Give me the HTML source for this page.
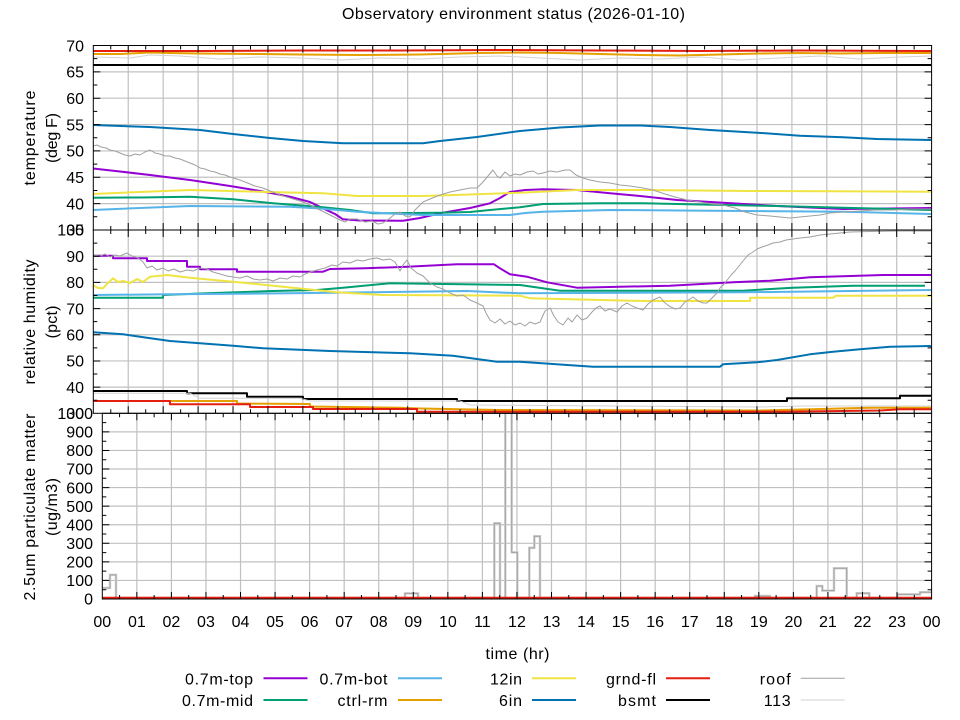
<!DOCTYPE html>
<html><head><meta charset="utf-8"><style>
html,body{margin:0;padding:0;background:#fff;}
svg{display:block;}
text{font-family:"Liberation Sans","DejaVu Sans",sans-serif;font-size:16px;fill:#000;}
</style></head><body>
<svg width="960" height="720" viewBox="0 0 960 720" xmlns="http://www.w3.org/2000/svg">
<defs>
<clipPath id="c1"><rect x="93.3" y="45.5" width="838.3" height="184.5"/></clipPath>
<clipPath id="c2"><rect x="93.3" y="230" width="838.3" height="183.3"/></clipPath>
<clipPath id="c3"><rect x="102.3" y="413.3" width="829.3" height="185.7"/></clipPath>
</defs>
<rect width="960" height="720" fill="#fff"/>

<!-- grid panels 1 & 2 -->
<g stroke="#c0c0c0" stroke-width="1.2" fill="none">
<path d="M128.23 45.5V413.3M163.16 45.5V413.3M198.09 45.5V413.3M233.02 45.5V413.3M267.95 45.5V413.3M302.88 45.5V413.3M337.81 45.5V413.3M372.74 45.5V413.3M407.67 45.5V413.3M442.6 45.5V413.3M477.53 45.5V413.3M512.46 45.5V413.3M547.39 45.5V413.3M582.32 45.5V413.3M617.25 45.5V413.3M652.18 45.5V413.3M687.11 45.5V413.3M722.04 45.5V413.3M756.97 45.5V413.3M791.9 45.5V413.3M826.83 45.5V413.3M861.76 45.5V413.3M896.69 45.5V413.3"/>
<path d="M93.3 71.86H931.6M93.3 98.21H931.6M93.3 124.57H931.6M93.3 150.92H931.6M93.3 177.28H931.6M93.3 203.63H931.6"/>
<path d="M93.3 256.19H931.6M93.3 282.38H931.6M93.3 308.57H931.6M93.3 334.76H931.6M93.3 360.95H931.6M93.3 387.14H931.6"/>
<!-- panel 3 grid -->
<path d="M136.85 413.3V599M171.41 413.3V599M205.96 413.3V599M240.52 413.3V599M275.07 413.3V599M309.62 413.3V599M344.18 413.3V599M378.73 413.3V599M413.29 413.3V599M447.84 413.3V599M482.39 413.3V599M516.95 413.3V599M551.5 413.3V599M586.06 413.3V599M620.61 413.3V599M655.16 413.3V599M689.72 413.3V599M724.27 413.3V599M758.83 413.3V599M793.38 413.3V599M827.93 413.3V599M862.49 413.3V599M897.04 413.3V599"/>
<path d="M102.3 580.43H931.6M102.3 561.86H931.6M102.3 543.29H931.6M102.3 524.72H931.6M102.3 506.15H931.6M102.3 487.58H931.6M102.3 469.01H931.6M102.3 450.44H931.6M102.3 431.87H931.6"/>
</g>

<!-- PANEL 1 series -->
<g clip-path="url(#c1)" fill="none" stroke-linejoin="round">
<polyline stroke="#9400d3" stroke-width="2" points="93,168.5 120,171.5 150,175 190,180 230,186 260,191 290,196.7 310,202 323,208.3 335,214 343,219.3 360,220.5 403,220.7 420,218 443,212.7 470,208 490,203.3 500,198 510,192 525,190 543,189.3 577,190 610,193.3 640,196 677,200 723,202.7 777,206 843,209 931,208"/>
<polyline stroke="#009e73" stroke-width="2" points="93,197.7 140,197.5 190,196.7 233,199.3 273,203.3 323,207.3 350,210 373,213.3 440,212.7 470,212 490,210 520,207.3 543,204 600,203.3 643,203.3 700,204.5 777,206 843,207.7 931,210"/>
<polyline stroke="#56b4e9" stroke-width="2" points="93,210 140,208 190,206 290,206.7 320,208.5 357,211.7 390,213.5 423,215 510,215 525,213 543,211.7 610,210 680,210.5 743,211 843,211.7 931,214"/>
<polyline stroke="#e69f00" stroke-width="2" points="93,54 120,54 130,53.5 150,52.5 170,53 200,53.5 260,54 300,54.5 360,55 420,54.5 480,53 520,52.5 560,53 600,54 640,55 680,55.5 720,54.5 760,53.5 800,53 840,53.5 880,53 931,53"/>
<polyline stroke="#f0e442" stroke-width="2" points="93,194 140,192 190,190 257,191.7 323,193.3 357,196 423,196 470,194.5 520,192.7 577,190 643,190 750,191 931,191.7"/>
<polyline stroke="#0072b2" stroke-width="2" points="93,125 150,127 200,130 233,134 270,138 303,141 343,143.3 423,143.3 440,141 477,137 520,131 560,127.5 600,125.5 640,125.5 670,127 710,130 757,132.7 800,135.7 843,137.3 877,139 931,140"/>
<polyline stroke="#e51e10" stroke-width="2" points="93,51 200,51 300,50.5 400,50.5 500,50 600,50.5 700,51 800,50.5 931,51"/>
<polyline stroke="#000" stroke-width="2" points="93,65 931,65"/>
<polyline stroke="#a0a0a0" stroke-width="1" points="93,146 97,145 101,147 106,148 110,150 115,151 120,153 125,155 130,156 135,154 140,155 145,152 150,150 155,153 160,154 165,156 170,156 175,158 180,159 185,161 190,163 195,165 200,168 205,169 210,171 215,172 220,174 225,175 230,177 240,180 250,184 255,186 263,188 270,191 280,195 290,198 303,202 310,205 320,210 330,215 340,220 345,222 350,219 357,219 365,222 372,221 378,224 383,223 390,218 395,214 400,212 405,216 410,217 415,210 423,202 430,199 440,195 450,192 460,190 470,188 477,188 483,182 488,176 493,170 497,176 500,178 505,172 510,176 515,174 520,175 527,172 533,171 538,174 543,173 550,171 557,172 565,170 570,170 576,175 583,178 590,180 600,182 610,183 620,185 630,186 643,188 653,190 665,194 675,197 687,200 700,202 712,204 723,205 735,208 745,212 757,215 770,216 780,217 790,218 800,217 810,216 820,215 830,213 843,212 860,211 875,210 893,210 910,209 931,209"/>
<polyline stroke="#d3d3d3" stroke-width="1" points="93,57 130,58 150,55 180,56 220,59 260,57 300,58 340,60 380,58 420,59 460,57 500,56 540,58 580,60 620,58 660,59 700,57 740,60 780,58 820,56 860,59 900,57 931,56"/>
</g>

<!-- PANEL 2 series -->
<g clip-path="url(#c2)" fill="none" stroke-linejoin="round">
<polyline stroke="#9400d3" stroke-width="2" points="93,255.7 113,255.7 113,258.3 147,258.3 147,261 187,261 187,266.7 200,266.7 200,269.3 237,269.3 237,271.7 323,271.7 330,269 365,268.3 407,266.7 457,264.3 494,264.3 500,268.3 510,274.3 527,276.7 547,282.3 577,287.7 670,285.7 733,282.3 770,280.7 810,277.3 883,275 931,275"/>
<polyline stroke="#009e73" stroke-width="2" points="93,297.7 163,297.7 163,295 207,293.3 273,291 317,290 343,287.7 390,283.3 520,285 560,290.7 743,290.7 793,287.7 853,285.7 925,285.7"/>
<polyline stroke="#56b4e9" stroke-width="2" points="93,295 170,294.3 290,293.3 467,291 520,293.3 743,292.3 931,290"/>
<polyline stroke="#e69f00" stroke-width="2" points="93,401 170,401 237,401 237,403.5 310,404 310,406.5 400,407.7 420,408.5 500,410 760,410.5 870,407.7 931,407.7"/>
<polyline stroke="#f0e442" stroke-width="2" points="93,285 98,288 103,288.3 108,283 113,278.3 118,282 123,281 130,283 137,279 143,282 150,276.7 167,275 190,277.7 233,281.7 283,286.7 337,292.3 383,295 520,295.7 530,298.3 643,301 750,301 750,297.7 833,297.7 836,295.7 931,295.7"/>
<polyline stroke="#0072b2" stroke-width="2" points="93,332.3 123,334.3 147,337.7 170,341 200,343.3 233,345.7 263,348.3 330,351 410,353.3 453,355.7 497,361.7 520,361.7 593,366.7 720,366.7 723,364.3 757,362.3 777,360 810,354.3 833,351.7 860,349.3 890,346.7 931,346"/>
<polyline stroke="#e51e10" stroke-width="2" points="93,401 170,401 170,404.3 250,404.3 250,407 313,407 313,409 417,409 417,411.7 783,411.7 880,410.5 900,409.3 931,409.3"/>
<polyline stroke="#000" stroke-width="2" points="93,391 187,391 187,393.3 247,393.3 247,396.7 303,396.7 303,399 457,399 457,401 787,401 787,398.3 900,398.3 900,395.7 931,395.7"/>
<polyline stroke="#a0a0a0" stroke-width="1" points="93,255 100,256 105,254 110,257 115,255 120,256 127,253 132,256 138,258 143,262 147,268 152,266 157,270 163,268 168,271 174,269 180,272 187,270 193,271 200,268 207,269 213,272 220,274 227,276 233,277 240,278 247,276 253,279 260,280 267,279 273,281 280,278 287,279 293,276 300,277 305,274 310,272 317,270 325,268 332,265 337,266 343,262 350,263 357,260 363,261 370,259 377,258 383,260 390,259 395,262 400,271 403,265 407,260 411,268 417,273 423,276 430,283 437,287 443,289 450,293 457,296 463,295 470,300 477,303 483,306 486,313 490,320 495,323 500,319 505,324 510,321 515,325 520,323 525,326 530,322 535,324 540,322 545,311 550,308 554,316 558,322 563,325 568,318 572,322 577,315 582,320 587,318 592,312 596,308 600,306 605,311 610,309 617,312 622,306 627,303 632,306 637,308 643,310 648,304 653,300 660,297 664,302 669,306 675,309 680,308 685,302 690,299 693,297 698,301 703,303 707,303 712,298 717,293 720,288 724,284 728,279 731,275 735,271 739,266 743,261 748,255 753,252 757,249 762,247 768,245 773,243 780,242 786,240 793,239 800,238 810,237 820,235 830,234 840,233 850,232 870,231.5 900,231 931,231"/>
<polyline stroke="#d3d3d3" stroke-width="1" points="93,393.3 190,393.3 200,398.3 300,398.3 310,401 460,401 470,405 760,407 800,406 931,406"/>
</g>

<!-- PANEL 3 series -->
<g clip-path="url(#c3)" fill="none">
<polyline stroke="#d3d3d3" stroke-width="2.5" points="102.3,588 110,588 110,574.9 116,574.9 116,598 405,598 405,593.4 418,593.4 418,598 494.3,598 494.3,523.2 500,523.2 500,598 505.3,598 505.3,405 511.7,405 511.7,552.4 517.3,552.4 517.3,598 529.3,598 529.3,547.9 534.3,547.9 534.3,536.2 540,536.2 540,598 755,598 755,596 770,596 770,598 816.7,598 816.7,586 822.3,586 822.3,590.6 834,590.6 834,568.2 846.7,568.2 846.7,598 856.7,598 856.7,593.2 869.3,593.2 869.3,598 897.3,598 897.3,594.4 920,594.4 920,592.3 931.7,592.3"/>
<polyline stroke="#a0a0a0" stroke-width="1" points="102.3,588 110,588 110,574.9 116,574.9 116,598 405,598 405,593.4 418,593.4 418,598 494.3,598 494.3,523.2 500,523.2 500,598 505.3,598 505.3,405 511.7,405 511.7,552.4 517.3,552.4 517.3,598 529.3,598 529.3,547.9 534.3,547.9 534.3,536.2 540,536.2 540,598 755,598 755,596 770,596 770,598 816.7,598 816.7,586 822.3,586 822.3,590.6 834,590.6 834,568.2 846.7,568.2 846.7,598 856.7,598 856.7,593.2 869.3,593.2 869.3,598 897.3,598 897.3,594.4 920,594.4 920,592.3 931.7,592.3"/>
<polyline stroke="#e51e10" stroke-width="2" points="102.3,597.8 931.6,597.8"/>
</g>

<!-- frames & ticks -->
<g stroke="#000" stroke-width="1" fill="none">
<rect x="93.3" y="45.5" width="838.3" height="184.5"/>
<rect x="93.3" y="230" width="838.3" height="183.3"/>
<rect x="102.3" y="413.3" width="829.3" height="185.7"/>
<!-- x major ticks panels 1-2 -->
<path d="M128.23 45.5v7M128.23 223v14M128.23 406.3v7M163.16 45.5v7M163.16 223v14M163.16 406.3v7M198.09 45.5v7M198.09 223v14M198.09 406.3v7M233.02 45.5v7M233.02 223v14M233.02 406.3v7M267.95 45.5v7M267.95 223v14M267.95 406.3v7M302.88 45.5v7M302.88 223v14M302.88 406.3v7M337.81 45.5v7M337.81 223v14M337.81 406.3v7M372.74 45.5v7M372.74 223v14M372.74 406.3v7M407.67 45.5v7M407.67 223v14M407.67 406.3v7M442.6 45.5v7M442.6 223v14M442.6 406.3v7M477.53 45.5v7M477.53 223v14M477.53 406.3v7M512.46 45.5v7M512.46 223v14M512.46 406.3v7M547.39 45.5v7M547.39 223v14M547.39 406.3v7M582.32 45.5v7M582.32 223v14M582.32 406.3v7M617.25 45.5v7M617.25 223v14M617.25 406.3v7M652.18 45.5v7M652.18 223v14M652.18 406.3v7M687.11 45.5v7M687.11 223v14M687.11 406.3v7M722.04 45.5v7M722.04 223v14M722.04 406.3v7M756.97 45.5v7M756.97 223v14M756.97 406.3v7M791.9 45.5v7M791.9 223v14M791.9 406.3v7M826.83 45.5v7M826.83 223v14M826.83 406.3v7M861.76 45.5v7M861.76 223v14M861.76 406.3v7M896.69 45.5v7M896.69 223v14M896.69 406.3v7"/>
<!-- x minor ticks panels 1-2 -->
<path d="M110.77 45.5v4M110.77 226v8M110.77 409.3v4M145.7 45.5v4M145.7 226v8M145.7 409.3v4M180.63 45.5v4M180.63 226v8M180.63 409.3v4M215.56 45.5v4M215.56 226v8M215.56 409.3v4M250.49 45.5v4M250.49 226v8M250.49 409.3v4M285.42 45.5v4M285.42 226v8M285.42 409.3v4M320.35 45.5v4M320.35 226v8M320.35 409.3v4M355.28 45.5v4M355.28 226v8M355.28 409.3v4M390.21 45.5v4M390.21 226v8M390.21 409.3v4M425.14 45.5v4M425.14 226v8M425.14 409.3v4M460.07 45.5v4M460.07 226v8M460.07 409.3v4M495 45.5v4M495 226v8M495 409.3v4M529.93 45.5v4M529.93 226v8M529.93 409.3v4M564.86 45.5v4M564.86 226v8M564.86 409.3v4M599.79 45.5v4M599.79 226v8M599.79 409.3v4M634.72 45.5v4M634.72 226v8M634.72 409.3v4M669.65 45.5v4M669.65 226v8M669.65 409.3v4M704.58 45.5v4M704.58 226v8M704.58 409.3v4M739.51 45.5v4M739.51 226v8M739.51 409.3v4M774.44 45.5v4M774.44 226v8M774.44 409.3v4M809.37 45.5v4M809.37 226v8M809.37 409.3v4M844.3 45.5v4M844.3 226v8M844.3 409.3v4M879.23 45.5v4M879.23 226v8M879.23 409.3v4M914.16 45.5v4M914.16 226v8M914.16 409.3v4"/>
<!-- x ticks panel 3 -->
<path d="M136.85 413.3v7M136.85 599v-7M171.41 413.3v7M171.41 599v-7M205.96 413.3v7M205.96 599v-7M240.52 413.3v7M240.52 599v-7M275.07 413.3v7M275.07 599v-7M309.62 413.3v7M309.62 599v-7M344.18 413.3v7M344.18 599v-7M378.73 413.3v7M378.73 599v-7M413.29 413.3v7M413.29 599v-7M447.84 413.3v7M447.84 599v-7M482.39 413.3v7M482.39 599v-7M516.95 413.3v7M516.95 599v-7M551.5 413.3v7M551.5 599v-7M586.06 413.3v7M586.06 599v-7M620.61 413.3v7M620.61 599v-7M655.16 413.3v7M655.16 599v-7M689.72 413.3v7M689.72 599v-7M724.27 413.3v7M724.27 599v-7M758.83 413.3v7M758.83 599v-7M793.38 413.3v7M793.38 599v-7M827.93 413.3v7M827.93 599v-7M862.49 413.3v7M862.49 599v-7M897.04 413.3v7M897.04 599v-7"/>
<path d="M119.58 413.3v4M119.58 599v-4M154.13 413.3v4M154.13 599v-4M188.69 413.3v4M188.69 599v-4M223.24 413.3v4M223.24 599v-4M257.8 413.3v4M257.8 599v-4M292.35 413.3v4M292.35 599v-4M326.9 413.3v4M326.9 599v-4M361.46 413.3v4M361.46 599v-4M396.01 413.3v4M396.01 599v-4M430.57 413.3v4M430.57 599v-4M465.12 413.3v4M465.12 599v-4M499.67 413.3v4M499.67 599v-4M534.23 413.3v4M534.23 599v-4M568.78 413.3v4M568.78 599v-4M603.34 413.3v4M603.34 599v-4M637.89 413.3v4M637.89 599v-4M672.44 413.3v4M672.44 599v-4M707 413.3v4M707 599v-4M741.55 413.3v4M741.55 599v-4M776.11 413.3v4M776.11 599v-4M810.66 413.3v4M810.66 599v-4M845.21 413.3v4M845.21 599v-4M879.77 413.3v4M879.77 599v-4M914.32 413.3v4M914.32 599v-4"/>
<!-- y ticks panel 1 -->
<path d="M93.3 71.86h7M931.6 71.86h-7M93.3 98.21h7M931.6 98.21h-7M93.3 124.57h7M931.6 124.57h-7M93.3 150.92h7M931.6 150.92h-7M93.3 177.28h7M931.6 177.28h-7M93.3 203.63h7M931.6 203.63h-7"/>
<path d="M93.3 58.68h4M931.6 58.68h-4M93.3 85.03h4M931.6 85.03h-4M93.3 111.39h4M931.6 111.39h-4M93.3 137.74h4M931.6 137.74h-4M93.3 164.1h4M931.6 164.1h-4M93.3 190.45h4M931.6 190.45h-4M93.3 216.8h4M931.6 216.8h-4"/>
<!-- y ticks panel 2 -->
<path d="M93.3 256.19h7M931.6 256.19h-7M93.3 282.38h7M931.6 282.38h-7M93.3 308.57h7M931.6 308.57h-7M93.3 334.76h7M931.6 334.76h-7M93.3 360.95h7M931.6 360.95h-7M93.3 387.14h7M931.6 387.14h-7"/>
<path d="M93.3 243.1h4M931.6 243.1h-4M93.3 269.29h4M931.6 269.29h-4M93.3 295.48h4M931.6 295.48h-4M93.3 321.67h4M931.6 321.67h-4M93.3 347.86h4M931.6 347.86h-4M93.3 374.05h4M931.6 374.05h-4M93.3 400.24h4M931.6 400.24h-4"/>
<!-- y ticks panel 3 -->
<path d="M102.3 580.43h7M931.6 580.43h-7M102.3 561.86h7M931.6 561.86h-7M102.3 543.29h7M931.6 543.29h-7M102.3 524.72h7M931.6 524.72h-7M102.3 506.15h7M931.6 506.15h-7M102.3 487.58h7M931.6 487.58h-7M102.3 469.01h7M931.6 469.01h-7M102.3 450.44h7M931.6 450.44h-7M102.3 431.87h7M931.6 431.87h-7"/>
<path d="M102.3 589.7h4M931.6 589.7h-4M102.3 571.1h4M931.6 571.1h-4M102.3 552.6h4M931.6 552.6h-4M102.3 534h4M931.6 534h-4M102.3 515.4h4M931.6 515.4h-4M102.3 496.9h4M931.6 496.9h-4M102.3 478.3h4M931.6 478.3h-4M102.3 459.7h4M931.6 459.7h-4M102.3 441.2h4M931.6 441.2h-4M102.3 422.6h4M931.6 422.6h-4"/>
</g>

<!-- title -->
<text x="513.5" y="19" text-anchor="middle" textLength="343" lengthAdjust="spacing">Observatory environment status (2026-01-10)</text>

<!-- y tick labels panel 1 -->
<g text-anchor="end">
<text x="84" y="51.4">70</text>
<text x="84" y="77.6">65</text>
<text x="84" y="103.9">60</text>
<text x="84" y="130.3">55</text>
<text x="84" y="156.6">50</text>
<text x="84" y="183">45</text>
<text x="84" y="209.3">40</text>
<text x="84" y="235.7">35</text>
<!-- panel 2 -->
<text x="84" y="235.7">100</text>
<text x="84" y="261.9">90</text>
<text x="84" y="288.1">80</text>
<text x="84" y="314.3">70</text>
<text x="84" y="340.5">60</text>
<text x="84" y="366.6">50</text>
<text x="84" y="392.8">40</text>
<text x="84" y="419">30</text>
<!-- panel 3 -->
<text x="93" y="419">1000</text>
<text x="93" y="437.6">900</text>
<text x="93" y="456.1">800</text>
<text x="93" y="474.7">700</text>
<text x="93" y="493.3">600</text>
<text x="93" y="511.9">500</text>
<text x="93" y="530.4">400</text>
<text x="93" y="549">300</text>
<text x="93" y="567.6">200</text>
<text x="93" y="586.1">100</text>
<text x="93" y="604.7">0</text>
</g>

<!-- x tick labels -->
<g text-anchor="middle">
<text x="102.3" y="627">00</text><text x="136.85" y="627">01</text><text x="171.41" y="627">02</text><text x="205.96" y="627">03</text><text x="240.52" y="627">04</text><text x="275.07" y="627">05</text><text x="309.62" y="627">06</text><text x="344.18" y="627">07</text><text x="378.73" y="627">08</text><text x="413.29" y="627">09</text><text x="447.84" y="627">10</text><text x="482.39" y="627">11</text><text x="516.95" y="627">12</text><text x="551.5" y="627">13</text><text x="586.06" y="627">14</text><text x="620.61" y="627">15</text><text x="655.16" y="627">16</text><text x="689.72" y="627">17</text><text x="724.27" y="627">18</text><text x="758.83" y="627">19</text><text x="793.38" y="627">20</text><text x="827.93" y="627">21</text><text x="862.49" y="627">22</text><text x="897.04" y="627">23</text><text x="931.6" y="627">00</text>
<text x="517.5" y="659" textLength="64" lengthAdjust="spacing">time (hr)</text>
</g>

<!-- y axis titles -->
<g text-anchor="middle">
<text transform="translate(35,138) rotate(-90)" textLength="95" lengthAdjust="spacing">temperature</text>
<text transform="translate(57,138) rotate(-90)" textLength="50" lengthAdjust="spacing">(deg F)</text>
<text transform="translate(35,322) rotate(-90)" textLength="125" lengthAdjust="spacing">relative humidity</text>
<text transform="translate(57,322) rotate(-90)" textLength="33" lengthAdjust="spacing">(pct)</text>
<text transform="translate(35,507) rotate(-90)" textLength="187" lengthAdjust="spacing">2.5um particulate matter</text>
<text transform="translate(57,507) rotate(-90)" textLength="58" lengthAdjust="spacing">(ug/m3)</text>
</g>

<!-- legend -->
<g text-anchor="end">
<text x="253" y="684.3" textLength="68" lengthAdjust="spacing">0.7m-top</text>
<text x="253" y="706" textLength="71" lengthAdjust="spacing">0.7m-mid</text>
<text x="387.5" y="684.3" textLength="68" lengthAdjust="spacing">0.7m-bot</text>
<text x="387.5" y="706" textLength="50" lengthAdjust="spacing">ctrl-rm</text>
<text x="522" y="684.3" textLength="32" lengthAdjust="spacing">12in</text>
<text x="522" y="706" textLength="23" lengthAdjust="spacing">6in</text>
<text x="656" y="684.3" textLength="50" lengthAdjust="spacing">grnd-fl</text>
<text x="656" y="706" textLength="38" lengthAdjust="spacing">bsmt</text>
<text x="790.7" y="684.3" textLength="31" lengthAdjust="spacing">roof</text>
<text x="790.7" y="706" textLength="27" lengthAdjust="spacing">113</text>
</g>
<g fill="none">
<path d="M263.5 678.3h44" stroke="#9400d3" stroke-width="2"/>
<path d="M263.5 700h44" stroke="#009e73" stroke-width="2"/>
<path d="M398 678.3h44" stroke="#56b4e9" stroke-width="2"/>
<path d="M398 700h44" stroke="#e69f00" stroke-width="2"/>
<path d="M532 678.3h44" stroke="#f0e442" stroke-width="2"/>
<path d="M532 700h44" stroke="#0072b2" stroke-width="2"/>
<path d="M666 678.3h44" stroke="#e51e10" stroke-width="2"/>
<path d="M666 700h44" stroke="#000" stroke-width="2"/>
<path d="M800.7 678.3h44" stroke="#a0a0a0" stroke-width="1"/>
<path d="M800.7 700h44" stroke="#d3d3d3" stroke-width="1"/>
</g>
</svg>
</body></html>
